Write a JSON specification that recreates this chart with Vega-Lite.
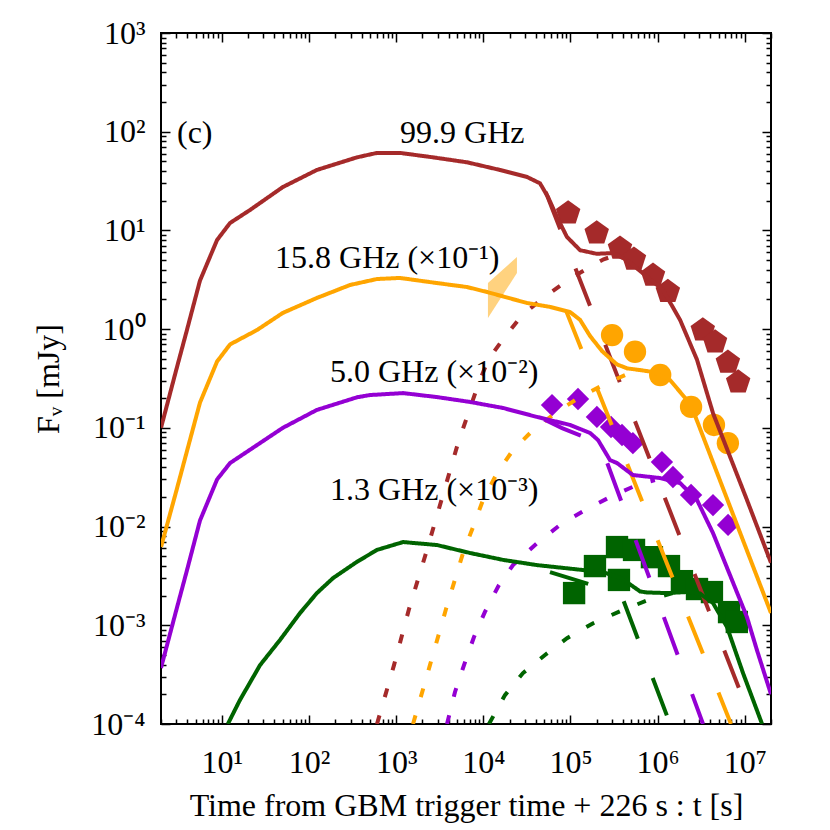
{
  "$schema": "https://vega.github.io/schema/vega-lite/v6.json",
  "width": 610,
  "height": 691,
  "autosize": {"type": "none"},
  "padding": {"left": 161, "top": 33, "right": 59, "bottom": 106},
  "background": "white",
  "config": {"view": {"stroke": "black", "strokeWidth": 2}, "font": "Liberation Serif"},
  "datasets": {
    "curves": [
      {"b":"99.9","c":"total","t":2,"f":0.1},{"b":"99.9","c":"total","t":3,"f":0.39},{"b":"99.9","c":"total","t":3.97,"f":0.98},{"b":"99.9","c":"total","t":5.6,"f":3.1},{"b":"99.9","c":"total","t":8.8,"f":8.0},{"b":"99.9","c":"total","t":12.4,"f":11.9},{"b":"99.9","c":"total","t":21,"f":16.1},{"b":"99.9","c":"total","t":50,"f":27.5},{"b":"99.9","c":"total","t":123,"f":41},{"b":"99.9","c":"total","t":355,"f":55},{"b":"99.9","c":"total","t":602,"f":61},{"b":"99.9","c":"total","t":1107,"f":61},{"b":"99.9","c":"total","t":2644,"f":55},{"b":"99.9","c":"total","t":6500,"f":49},{"b":"99.9","c":"total","t":15500,"f":41},{"b":"99.9","c":"total","t":31700,"f":34.8},{"b":"99.9","c":"total","t":44700,"f":30},{"b":"99.9","c":"total","t":55200,"f":21.8},{"b":"99.9","c":"total","t":70000,"f":13.7},{"b":"99.9","c":"total","t":91000,"f":8.6},{"b":"99.9","c":"total","t":129000,"f":6.3},{"b":"99.9","c":"total","t":200000,"f":5.8},{"b":"99.9","c":"total","t":310000,"f":5.9},{"b":"99.9","c":"total","t":445000,"f":5.0},{"b":"99.9","c":"total","t":755000,"f":3.4},{"b":"99.9","c":"total","t":1150000,"f":2.5},{"b":"99.9","c":"total","t":1810000,"f":1.24},{"b":"99.9","c":"total","t":2830000,"f":0.49},{"b":"99.9","c":"total","t":4320000,"f":0.141},{"b":"99.9","c":"total","t":10600000,"f":0.0186},{"b":"99.9","c":"total","t":20000000,"f":0.0043},
      {"b":"99.9","c":"fs","t":52000,"f":24.5},{"b":"99.9","c":"fs","t":12400000,"f":0.0001},
      {"b":"99.9","c":"rs","t":602,"f":0.0001},{"b":"99.9","c":"rs","t":944,"f":0.000395},{"b":"99.9","c":"rs","t":1403,"f":0.00146},{"b":"99.9","c":"rs","t":2200,"f":0.0054},{"b":"99.9","c":"rs","t":3360,"f":0.0195},{"b":"99.9","c":"rs","t":5120,"f":0.07},{"b":"99.9","c":"rs","t":8450,"f":0.253},{"b":"99.9","c":"rs","t":11300,"f":0.487},{"b":"99.9","c":"rs","t":16800,"f":0.79},{"b":"99.9","c":"rs","t":28000,"f":1.39},{"b":"99.9","c":"rs","t":50000,"f":2.11},{"b":"99.9","c":"rs","t":93800,"f":3.15},{"b":"99.9","c":"rs","t":177000,"f":4.4},{"b":"99.9","c":"rs","t":240000,"f":5.1},{"b":"99.9","c":"rs","t":310000,"f":5.5},{"b":"99.9","c":"rs","t":445000,"f":4.85},
      {"b":"15.8","c":"total","t":2,"f":0.0062},{"b":"15.8","c":"total","t":3,"f":0.023},{"b":"15.8","c":"total","t":3.97,"f":0.058},{"b":"15.8","c":"total","t":5.6,"f":0.18},{"b":"15.8","c":"total","t":8.8,"f":0.47},{"b":"15.8","c":"total","t":12.4,"f":0.70},{"b":"15.8","c":"total","t":25.3,"f":0.98},{"b":"15.8","c":"total","t":50,"f":1.46},{"b":"15.8","c":"total","t":123,"f":2.07},{"b":"15.8","c":"total","t":295,"f":2.8},{"b":"15.8","c":"total","t":602,"f":3.22},{"b":"15.8","c":"total","t":1107,"f":3.3},{"b":"15.8","c":"total","t":2940,"f":2.93},{"b":"15.8","c":"total","t":6500,"f":2.67},{"b":"15.8","c":"total","t":11000,"f":2.38},{"b":"15.8","c":"total","t":31700,"f":1.84},{"b":"15.8","c":"total","t":58200,"f":1.68},{"b":"15.8","c":"total","t":99000,"f":1.49},{"b":"15.8","c":"total","t":129000,"f":1.24},{"b":"15.8","c":"total","t":168000,"f":0.85},{"b":"15.8","c":"total","t":230000,"f":0.6},{"b":"15.8","c":"total","t":340000,"f":0.44},{"b":"15.8","c":"total","t":450000,"f":0.40},{"b":"15.8","c":"total","t":630000,"f":0.385},{"b":"15.8","c":"total","t":885000,"f":0.368},{"b":"15.8","c":"total","t":1390000,"f":0.305},{"b":"15.8","c":"total","t":2170000,"f":0.191},{"b":"15.8","c":"total","t":2550000,"f":0.15},{"b":"15.8","c":"total","t":20000000,"f":0.00133},
      {"b":"15.8","c":"fs","t":90000,"f":1.5},{"b":"15.8","c":"fs","t":6950000,"f":0.0001},
      {"b":"15.8","c":"rs","t":1560,"f":0.0001},{"b":"15.8","c":"rs","t":2440,"f":0.000395},{"b":"15.8","c":"rs","t":3730,"f":0.00146},{"b":"15.8","c":"rs","t":5850,"f":0.0054},{"b":"15.8","c":"rs","t":7620,"f":0.0099},{"b":"15.8","c":"rs","t":9910,"f":0.0186},{"b":"15.8","c":"rs","t":14400,"f":0.0349},{"b":"15.8","c":"rs","t":21900,"f":0.0596},{"b":"15.8","c":"rs","t":37200,"f":0.095},{"b":"15.8","c":"rs","t":70000,"f":0.145},{"b":"15.8","c":"rs","t":128000,"f":0.205},{"b":"15.8","c":"rs","t":262000,"f":0.284},{"b":"15.8","c":"rs","t":510000,"f":0.368},{"b":"15.8","c":"rs","t":640000,"f":0.385},
      {"b":"5.0","c":"total","t":2,"f":0.00037},{"b":"5.0","c":"total","t":3,"f":0.00143},{"b":"5.0","c":"total","t":3.97,"f":0.0036},{"b":"5.0","c":"total","t":5.6,"f":0.0115},{"b":"5.0","c":"total","t":8.8,"f":0.030},{"b":"5.0","c":"total","t":12.4,"f":0.044},{"b":"5.0","c":"total","t":21,"f":0.06},{"b":"5.0","c":"total","t":50,"f":0.10},{"b":"5.0","c":"total","t":123,"f":0.152},{"b":"5.0","c":"total","t":355,"f":0.204},{"b":"5.0","c":"total","t":500,"f":0.215},{"b":"5.0","c":"total","t":1200,"f":0.225},{"b":"5.0","c":"total","t":2940,"f":0.205},{"b":"5.0","c":"total","t":7030,"f":0.183},{"b":"5.0","c":"total","t":16800,"f":0.159},{"b":"5.0","c":"total","t":41300,"f":0.129},{"b":"5.0","c":"total","t":99000,"f":0.107},{"b":"5.0","c":"total","t":168000,"f":0.0887},{"b":"5.0","c":"total","t":207000,"f":0.0753},{"b":"5.0","c":"total","t":284000,"f":0.0472},{"b":"5.0","c":"total","t":342000,"f":0.044},{"b":"5.0","c":"total","t":520000,"f":0.0333},{"b":"5.0","c":"total","t":1070000,"f":0.031},{"b":"5.0","c":"total","t":1810000,"f":0.0276},{"b":"5.0","c":"total","t":2830000,"f":0.0186},{"b":"5.0","c":"total","t":4320000,"f":0.0086},{"b":"5.0","c":"total","t":10600000,"f":0.00121},{"b":"5.0","c":"total","t":13800000,"f":0.00056},{"b":"5.0","c":"total","t":20000000,"f":0.0002},
      {"b":"5.0","c":"fs","t":50000,"f":0.122},{"b":"5.0","c":"fs","t":80000,"f":0.0995},{"b":"5.0","c":"fs","t":218000,"f":0.070},{"b":"5.0","c":"fs","t":3320000,"f":0.0001},
      {"b":"5.0","c":"rs","t":3830,"f":0.0001},{"b":"5.0","c":"rs","t":4730,"f":0.000211},{"b":"5.0","c":"rs","t":6000,"f":0.000395},{"b":"5.0","c":"rs","t":7810,"f":0.00076},{"b":"5.0","c":"rs","t":10400,"f":0.00136},{"b":"5.0","c":"rs","t":15100,"f":0.00256},{"b":"5.0","c":"rs","t":21900,"f":0.00407},{"b":"5.0","c":"rs","t":41300,"f":0.0068},{"b":"5.0","c":"rs","t":76000,"f":0.0104},{"b":"5.0","c":"rs","t":147000,"f":0.0147},{"b":"5.0","c":"rs","t":284000,"f":0.0199},{"b":"5.0","c":"rs","t":580000,"f":0.0264},{"b":"5.0","c":"rs","t":930000,"f":0.0296},
      {"b":"1.3","c":"total","t":11.7,"f":0.0001},{"b":"1.3","c":"total","t":16.1,"f":0.000175},{"b":"1.3","c":"total","t":27.4,"f":0.000395},{"b":"1.3","c":"total","t":46.4,"f":0.00071},{"b":"1.3","c":"total","t":78.8,"f":0.00133},{"b":"1.3","c":"total","t":123,"f":0.00212},{"b":"1.3","c":"total","t":188,"f":0.003},{"b":"1.3","c":"total","t":355,"f":0.0044},{"b":"1.3","c":"total","t":602,"f":0.0058},{"b":"1.3","c":"total","t":1200,"f":0.00697},{"b":"1.3","c":"total","t":2940,"f":0.0065},{"b":"1.3","c":"total","t":7030,"f":0.0054},{"b":"1.3","c":"total","t":16800,"f":0.0046},{"b":"1.3","c":"total","t":41300,"f":0.00407},{"b":"1.3","c":"total","t":139000,"f":0.00363},{"b":"1.3","c":"total","t":250000,"f":0.0034},{"b":"1.3","c":"total","t":380000,"f":0.003},{"b":"1.3","c":"total","t":482000,"f":0.0026},{"b":"1.3","c":"total","t":630000,"f":0.0022},{"b":"1.3","c":"total","t":755000,"f":0.00215},{"b":"1.3","c":"total","t":1280000,"f":0.00212},{"b":"1.3","c":"total","t":2170000,"f":0.00217},{"b":"1.3","c":"total","t":3060000,"f":0.0021},{"b":"1.3","c":"total","t":4320000,"f":0.00168},{"b":"1.3","c":"total","t":6260000,"f":0.00096},{"b":"1.3","c":"total","t":9550000,"f":0.000328},{"b":"1.3","c":"total","t":15800000,"f":0.0001},
      {"b":"1.3","c":"fs","t":58200,"f":0.00346},{"b":"1.3","c":"fs","t":380000,"f":0.00207},{"b":"1.3","c":"fs","t":1390000,"f":0.0001},
      {"b":"1.3","c":"rs","t":11600,"f":0.0001},{"b":"1.3","c":"rs","t":17700,"f":0.000196},{"b":"1.3","c":"rs","t":28500,"f":0.000328},{"b":"1.3","c":"rs","t":51000,"f":0.0005},{"b":"1.3","c":"rs","t":91300,"f":0.00074},{"b":"1.3","c":"rs","t":182000,"f":0.00105},{"b":"1.3","c":"rs","t":400000,"f":0.00143},{"b":"1.3","c":"rs","t":776000,"f":0.0018},{"b":"1.3","c":"rs","t":1500000,"f":0.00212},{"b":"1.3","c":"rs","t":2200000,"f":0.00217}
    ],
    "obs": [
      {"b":"99.9","t":94000,"f":15.0},{"b":"99.9","t":200000,"f":9.4},{"b":"99.9","t":370000,"f":6.6},{"b":"99.9","t":535000,"f":5.1},{"b":"99.9","t":885000,"f":3.5},{"b":"99.9","t":1310000,"f":2.4},{"b":"99.9","t":3300000,"f":0.98},{"b":"99.9","t":4560000,"f":0.74},{"b":"99.9","t":6400000,"f":0.46},{"b":"99.9","t":8400000,"f":0.29},
      {"b":"15.8","t":300000,"f":0.87},{"b":"15.8","t":550000,"f":0.59},{"b":"15.8","t":1070000,"f":0.343},{"b":"15.8","t":2420000,"f":0.163},{"b":"15.8","t":4430000,"f":0.107},{"b":"15.8","t":6400000,"f":0.070},
      {"b":"5.0","t":61400,"f":0.170},{"b":"5.0","t":122000,"f":0.196},{"b":"5.0","t":201000,"f":0.129},{"b":"5.0","t":292000,"f":0.102},{"b":"5.0","t":390000,"f":0.0846},{"b":"5.0","t":520000,"f":0.070},{"b":"5.0","t":1120000,"f":0.045},{"b":"5.0","t":1500000,"f":0.0318},{"b":"5.0","t":2420000,"f":0.0209},{"b":"5.0","t":4320000,"f":0.0165},{"b":"5.0","t":6430000,"f":0.0104},
      {"b":"1.3","t":110000,"f":0.00212},{"b":"1.3","t":191000,"f":0.00398},{"b":"1.3","t":342000,"f":0.0062},{"b":"1.3","t":360000,"f":0.00288},{"b":"1.3","t":536000,"f":0.0058},{"b":"1.3","t":860000,"f":0.0049},{"b":"1.3","t":1350000,"f":0.00398},{"b":"1.3","t":1900000,"f":0.0028},{"b":"1.3","t":2830000,"f":0.00233},{"b":"1.3","t":4200000,"f":0.00217},{"b":"1.3","t":6600000,"f":0.00136},{"b":"1.3","t":8100000,"f":0.00108}
    ],
    "band": [
      {"t":11300,"lo":1.30,"hi":2.93},{"t":24300,"lo":3.7,"hi":5.38}
    ],
    "labels": [
      {"t":3.05,"f":76.9,"text":"(c)"},
      {"t":1107,"f":76.9,"text":"99.9 GHz"},
      {"t":40.7,"f":4.16,"text":"15.8 GHz (×10⁻¹)"},
      {"t":174,"f":0.291,"text":"5.0 GHz (×10⁻²)"},
      {"t":174,"f":0.0186,"text":"1.3 GHz (×10⁻³)"}
    ]
  },
  "layer": [
    {
      "data": {"name": "band"},
      "mark": {"type": "area", "color": "#ffd27f", "opacity": 1, "clip": true},
      "encoding": {
        "x": {"field": "t", "type": "quantitative",
          "scale": {"type": "log", "domain": [2, 20000000], "nice": false},
          "axis": {"orient": "bottom",
            "values": [2,3,4,5,6,7,8,9,10,20,30,40,50,60,70,80,90,100,200,300,400,500,600,700,800,900,1000,2000,3000,4000,5000,6000,7000,8000,9000,10000,20000,30000,40000,50000,60000,70000,80000,90000,100000,200000,300000,400000,500000,600000,700000,800000,900000,1000000,2000000,3000000,4000000,5000000,6000000,7000000,8000000,9000000,10000000,20000000],
            "labelExpr": "abs(log(datum.value)/LN10 - round(log(datum.value)/LN10)) < 0.001 ? '10' + ['⁰','¹','²','³','⁴','⁵','⁶','⁷'][round(log(datum.value)/LN10)] : ''",
            "tickSize": {"condition": {"test": "abs(log(datum.value)/LN10 - round(log(datum.value)/LN10)) < 0.001", "value": -9}, "value": -5},
            "tickColor": "black", "tickWidth": 1.5, "domain": false, "grid": false,
            "labelFont": "Liberation Serif", "labelFontSize": 32, "labelColor": "black",
            "labelPadding": 57, "labelBaseline": "alphabetic", "labelOverlap": false, "labelFlush": false,
            "title": "Time from GBM trigger time + 226 s : t [s]",
            "titleFont": "Liberation Serif", "titleFontSize": 32, "titleFontWeight": "normal", "titleColor": "black",
            "titleY": 91, "titleBaseline": "alphabetic"}},
        "y": {"field": "lo", "type": "quantitative",
          "scale": {"type": "log", "domain": [0.0001, 1000], "nice": false},
          "axis": {"orient": "left",
            "values": [0.0001,0.0002,0.0003,0.0004,0.0005,0.0006,0.0007,0.0008,0.0009,0.001,0.002,0.003,0.004,0.005,0.006,0.007,0.008,0.009,0.01,0.02,0.03,0.04,0.05,0.06,0.07,0.08,0.09,0.1,0.2,0.3,0.4,0.5,0.6,0.7,0.8,0.9,1,2,3,4,5,6,7,8,9,10,20,30,40,50,60,70,80,90,100,200,300,400,500,600,700,800,900,1000],
            "labelExpr": "abs(log(datum.value)/LN10 - round(log(datum.value)/LN10)) < 0.001 ? '10' + ['⁻⁴','⁻³','⁻²','⁻¹','⁰','¹','²','³'][round(log(datum.value)/LN10)+4] : ''",
            "tickSize": {"condition": {"test": "abs(log(datum.value)/LN10 - round(log(datum.value)/LN10)) < 0.001", "value": -9}, "value": -5},
            "tickColor": "black", "tickWidth": 1.5, "domain": false, "grid": false,
            "labelFont": "Liberation Serif", "labelFontSize": 32, "labelColor": "black",
            "labelPadding": 25, "labelBaseline": "middle", "labelOverlap": false, "labelFlush": false,
            "title": "Fᵥ [mJy]",
            "titleFont": "Liberation Serif", "titleFontSize": 32, "titleFontWeight": "normal", "titleColor": "black",
            "titleX": -103, "titleBaseline": "alphabetic"}},
        "y2": {"field": "hi"}
      }
    },
    {
      "data": {"name": "obs"},
      "mark": {"type": "point", "filled": true, "opacity": 1, "size": 500, "strokeWidth": 0},
      "encoding": {
        "x": {"field": "t", "type": "quantitative", "scale": {"type": "log", "domain": [2, 20000000], "nice": false}, "axis": null},
        "y": {"field": "f", "type": "quantitative", "scale": {"type": "log", "domain": [0.0001, 1000], "nice": false}, "axis": null},
        "color": {"field": "b", "type": "nominal", "scale": {"domain": ["99.9","15.8","5.0","1.3"], "range": ["#a52a2a","#ffa500","#9400d3","#006400"]}, "legend": null},
        "shape": {"field": "b", "type": "nominal", "scale": {"domain": ["99.9","15.8","5.0","1.3"], "range": ["M0,-1.15 L1.094,-0.355 L0.676,0.93 L-0.676,0.93 L-1.094,-0.355 Z", "circle", "diamond", "square"]}, "legend": null}
      }
    },
    {
      "data": {"name": "curves"},
      "mark": {"type": "line", "strokeWidth": 4, "clip": true},
      "encoding": {
        "x": {"field": "t", "type": "quantitative", "scale": {"type": "log", "domain": [2, 20000000], "nice": false}, "axis": null},
        "y": {"field": "f", "type": "quantitative", "scale": {"type": "log", "domain": [0.0001, 1000], "nice": false}, "axis": null},
        "color": {"field": "b", "type": "nominal", "scale": {"domain": ["99.9","15.8","5.0","1.3"], "range": ["#a52a2a","#ffa500","#9400d3","#006400"]}, "legend": null},
        "strokeDash": {"field": "c", "type": "nominal", "scale": {"domain": ["total","fs","rs"], "range": [[1,0],[40,42],[9,19]]}, "legend": null}
      }
    },
    {
      "data": {"name": "labels"},
      "mark": {"type": "text", "font": "Liberation Serif", "fontSize": 32, "align": "left", "baseline": "alphabetic", "color": "black"},
      "encoding": {
        "x": {"field": "t", "type": "quantitative", "scale": {"type": "log", "domain": [2, 20000000], "nice": false},
          "axis": {"orient": "top", "labels": false, "title": null, "domain": false, "grid": false, "tickColor": "black", "tickWidth": 1.5,
            "values": [2,3,4,5,6,7,8,9,10,20,30,40,50,60,70,80,90,100,200,300,400,500,600,700,800,900,1000,2000,3000,4000,5000,6000,7000,8000,9000,10000,20000,30000,40000,50000,60000,70000,80000,90000,100000,200000,300000,400000,500000,600000,700000,800000,900000,1000000,2000000,3000000,4000000,5000000,6000000,7000000,8000000,9000000,10000000,20000000],
            "tickSize": {"condition": {"test": "abs(log(datum.value)/LN10 - round(log(datum.value)/LN10)) < 0.001", "value": -9}, "value": -5}}},
        "y": {"field": "f", "type": "quantitative", "scale": {"type": "log", "domain": [0.0001, 1000], "nice": false},
          "axis": {"orient": "right", "labels": false, "title": null, "domain": false, "grid": false, "tickColor": "black", "tickWidth": 1.5,
            "values": [0.0001,0.0002,0.0003,0.0004,0.0005,0.0006,0.0007,0.0008,0.0009,0.001,0.002,0.003,0.004,0.005,0.006,0.007,0.008,0.009,0.01,0.02,0.03,0.04,0.05,0.06,0.07,0.08,0.09,0.1,0.2,0.3,0.4,0.5,0.6,0.7,0.8,0.9,1,2,3,4,5,6,7,8,9,10,20,30,40,50,60,70,80,90,100,200,300,400,500,600,700,800,900,1000],
            "tickSize": {"condition": {"test": "abs(log(datum.value)/LN10 - round(log(datum.value)/LN10)) < 0.001", "value": -9}, "value": -5}}},
        "text": {"field": "text", "type": "nominal"}
      }
    }
  ],
  "resolve": {"axis": {"x": "independent", "y": "independent"}}
}
